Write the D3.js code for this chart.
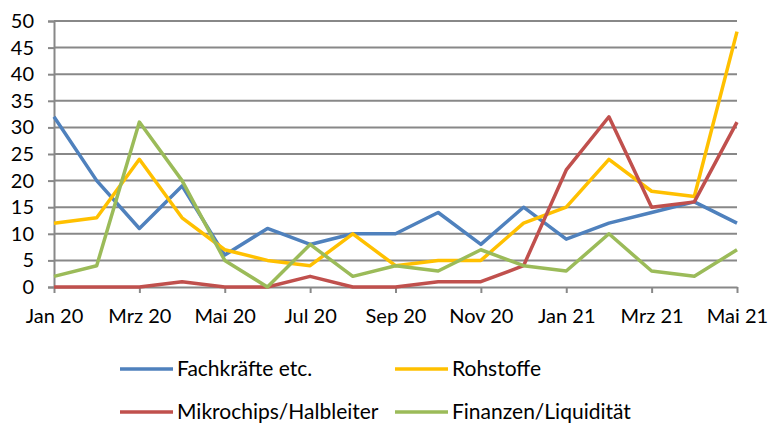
<!DOCTYPE html>
<html>
<head>
<meta charset="utf-8">
<script src="https://cdn.jsdelivr.net/npm/d3@7"></script>
<style>
  body { margin: 0; background: #fff; }
  text { font-family: Lato, "Open Sans", sans-serif; fill: #000; }
</style>
</head>
<body>
<div id="g1"></div>
<script>
var months = ["Jan 20","Feb 20","Mrz 20","Apr 20","Mai 20","Jun 20","Jul 20","Aug 20","Sep 20","Okt 20","Nov 20","Dez 20",
              "Jan 21","Feb 21","Mrz 21","Apr 21","Mai 21"];
var fachkraefte = [32,20,11,19,6,11,8,10,10,14,8,15,9,12,14,16,12];
var rohstoffe   = [12,13,24,13,7,5,4,10,4,5,5,12,15,24,18,17,48];
var mikrochips  = [0,0,0,1,0,0,2,0,0,1,1,4,22,32,15,16,31];
var finanzen    = [2,4,31,20,5,0,8,2,4,3,7,4,3,10,3,2,7];
var yTicks = [0,5,10,15,20,25,30,35,40,45,50];

var series = [
  {name: "Fachkräfte etc.", values: fachkraefte, color: "#4f81bd"},
  {name: "Rohstoffe", values: rohstoffe, color: "#ffc000"},
  {name: "Mikrochips/Halbleiter", values: mikrochips, color: "#c0504d"},
  {name: "Finanzen/Liquidität", values: finanzen, color: "#9bbb59"}
];

var width = 771, height = 424;
var plotLeft = 54, plotRight = 737, plotTop = 21, plotBottom = 287;

var svg = d3.select("#g1").append("svg")
  .attr("width", width)
  .attr("height", height);

var x = d3.scalePoint().domain(months).range([plotLeft, plotRight]);
var y = d3.scaleLinear().domain([0, 50]).range([plotBottom, plotTop]);

// gridlines
svg.append("g")
  .selectAll("line")
  .data(yTicks.slice(1))
  .enter().append("line")
  .attr("x1", plotLeft).attr("x2", plotRight)
  .attr("y1", function(d) { return y(d); })
  .attr("y2", function(d) { return y(d); })
  .attr("stroke", "#888")
  .attr("stroke-width", 2);

// y axis
var yAxis = svg.append("g")
  .attr("transform", "translate(" + plotLeft + ",0)")
  .call(d3.axisLeft(y).tickValues(yTicks).tickSize(6).tickPadding(14));
yAxis.select(".domain").attr("stroke", "#888").attr("stroke-width", 2);
yAxis.selectAll(".tick line").attr("stroke", "#888").attr("stroke-width", 2);
yAxis.selectAll("text").style("font-size", "20px").attr("fill", "#000");

// x axis
var xAxis = svg.append("g")
  .attr("transform", "translate(0," + plotBottom + ")")
  .call(d3.axisBottom(x)
    .tickValues(months.filter(function(d, i) { return i % 2 === 0; }))
    .tickSize(6).tickPadding(16).tickSizeOuter(0));
xAxis.select(".domain").attr("stroke", "#888").attr("stroke-width", 2);
xAxis.selectAll(".tick line").attr("stroke", "#888").attr("stroke-width", 2);
xAxis.selectAll("text").style("font-size", "20px").attr("fill", "#000");

// lines
var line = d3.line()
  .x(function(d, i) { return x(months[i]); })
  .y(function(d) { return y(d); });

svg.append("g")
  .selectAll("path")
  .data(series)
  .enter().append("path")
  .attr("d", function(s) { return line(s.values); })
  .attr("fill", "none")
  .attr("stroke", function(s) { return s.color; })
  .attr("stroke-width", 3.5)
  .attr("stroke-linejoin", "round");

// legend
var legendPos = [[120, 369], [395, 369], [120, 412], [395, 412]];
var legend = svg.append("g")
  .selectAll("g")
  .data(series)
  .enter().append("g")
  .attr("transform", function(d, i) { return "translate(" + legendPos[i] + ")"; });

legend.append("line")
  .attr("x1", 0).attr("x2", 53)
  .attr("stroke", function(d) { return d.color; })
  .attr("stroke-width", 3.5);

legend.append("text")
  .attr("x", 57)
  .attr("dy", "0.35em")
  .style("font-size", "21px")
  .text(function(d) { return d.name; });
</script>
</body>
</html>
